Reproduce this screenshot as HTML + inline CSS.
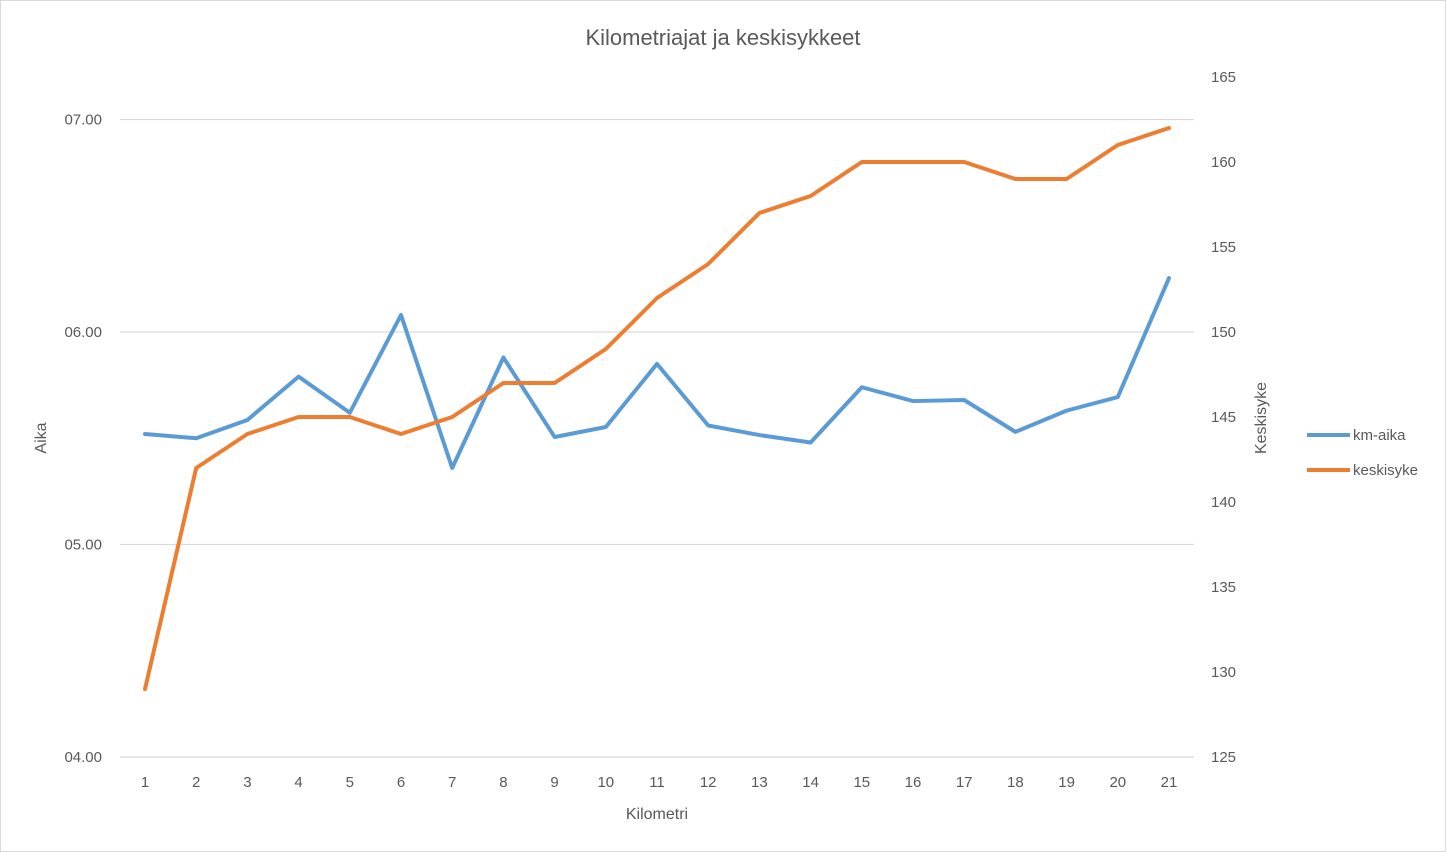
<!DOCTYPE html>
<html><head><meta charset="utf-8"><style>
body{margin:0;background:#fff;}
svg{display:block;font-family:"Liberation Sans",sans-serif;}
</style></head><body>
<svg id="chart" width="1446" height="852">
<rect x="0.5" y="0.5" width="1445" height="851" fill="#fff" stroke="#d9d9d9"/>
<text x="723" y="45" text-anchor="middle" font-size="22" fill="#595959">Kilometriajat ja keskisykkeet</text>
<g id="grid"></g><g id="axes"></g><g id="series"></g>
<text transform="translate(46,438) rotate(-90)" text-anchor="middle" font-size="16" fill="#595959">Aika</text>
<text transform="translate(1266,418) rotate(-90)" text-anchor="middle" font-size="16" fill="#595959">Keskisyke</text>
<text x="657" y="819" text-anchor="middle" font-size="16" fill="#595959">Kilometri</text>
<g><line x1="1307" y1="435" x2="1350" y2="435" stroke="#5b9bd5" stroke-width="4"/><text x="1353" y="440" font-size="15" fill="#595959">km-aika</text></g>
<g><line x1="1307" y1="470" x2="1350" y2="470" stroke="#ed7d31" stroke-width="4"/><text x="1353" y="475" font-size="15" fill="#595959">keskisyke</text></g>
</svg>
<script>
const categories=[1,2,3,4,5,6,7,8,9,10,11,12,13,14,15,16,17,18,19,20,21];
const kmAika=[5.52,5.50,5.586,5.79,5.62,6.08,5.36,5.88,5.506,5.553,5.85,5.56,5.515,5.48,5.74,5.675,5.68,5.53,5.63,5.694,6.254];
const keskisyke=[129,142,144,145,145,144,145,147,147,149,152,154,157,158,160,160,160,159,159,161,162];
const leftTicks=[4,5,6,7];
const leftTickLabels=["04.00","05.00","06.00","07.00"];
const rightTicks=[125,130,135,140,145,150,155,160,165];
const NS="http://www.w3.org/2000/svg";
const x=i=>145+(1169-145)*i/(categories.length-1);
const yL=v=>757-(v-4)*212.5;
const yR=v=>757-(v-125)*17;
function mk(tag,attrs,parent,text){const e=document.createElementNS(NS,tag);for(const k in attrs)e.setAttribute(k,attrs[k]);if(text!==undefined)e.textContent=text;parent.appendChild(e);return e;}
const grid=document.getElementById('grid'),axes=document.getElementById('axes'),series=document.getElementById('series');
leftTicks.forEach((t,i)=>{
  const l=mk('line',{x1:120,x2:1194,y1:yL(t),y2:yL(t),stroke:'#d9d9d9','stroke-width':1.3},grid);
  
  
  const tx=mk('text',{x:102,y:yL(t)+5,'text-anchor':'end','font-size':15,fill:'#595959'},axes,leftTickLabels[i]);
  
  
});
rightTicks.forEach(t=>{
  const tx=mk('text',{x:1211,y:yR(t)+5,'font-size':15,fill:'#595959'},axes,String(t));
  
  
});
categories.forEach((c,i)=>{
  const tx=mk('text',{x:x(i),y:787,'text-anchor':'middle','font-size':15,fill:'#595959'},axes,String(c));
  
  
});
const p1=mk('polyline',{points:kmAika.map((v,i)=>x(i)+','+yL(v)).join(' '),fill:'none',stroke:'#5b9bd5','stroke-width':4,'stroke-linejoin':'round','stroke-linecap':'round'},series);


const p2=mk('polyline',{points:keskisyke.map((v,i)=>x(i)+','+yR(v)).join(' '),fill:'none',stroke:'#ed7d31','stroke-width':4,'stroke-linejoin':'round','stroke-linecap':'round'},series);


</script>
</body></html>
